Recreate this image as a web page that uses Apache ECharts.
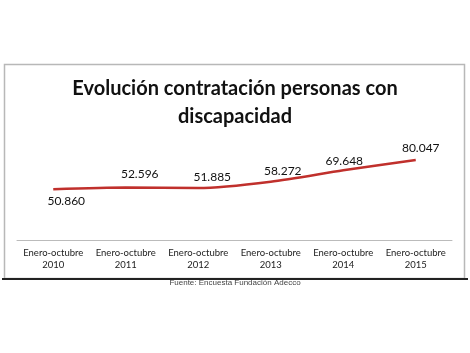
<!DOCTYPE html>
<html>
<head>
<meta charset="utf-8">
<script src="https://cdn.jsdelivr.net/npm/echarts@6/dist/echarts.min.js"></script>
<style>
html,body{margin:0;padding:0;background:#fff;}
#c{width:470px;height:353px;}
</style>
</head>
<body>
<div id="c"></div>
<script>
var categories = ['Enero-octubre\n2010','Enero-octubre\n2011','Enero-octubre\n2012','Enero-octubre\n2013','Enero-octubre\n2014','Enero-octubre\n2015'];
var values = [50860, 52596, 51885, 58272, 69648, 80047];
var valueLabels = ['50.860','52.596','51.885','58.272','69.648','80.047'];
var titleText = 'Evolución contratación personas con\ndiscapacidad';
var sourceText = 'Fuente: Encuesta Fundación Adecco';

// label placement (styling)
var labelPos = ['bottom','top','top','top','top','top'];
var labelOff = [[13,-1],[14,-1],[14,2],[12,2],[1,3],[5,1]];

var chart = echarts.init(document.getElementById('c'), null, {renderer:'canvas'});
var seriesData = values.map(function(v,i){
  return {value:v, label:{position:labelPos[i], offset:labelOff[i], formatter:valueLabels[i]}};
});
chart.setOption({
  animation:false,
  title:{
    text:titleText,
    left:'center', top:70,
    textStyle:{fontFamily:'Lato', fontWeight:'bold', fontSize:20, lineHeight:28, color:'#111'}
  },
  grid:{left:17, right:18, top:140, bottom:113},
  xAxis:{
    type:'category', data:categories, boundaryGap:true,
    axisLine:{lineStyle:{color:'#bbb', width:1}},
    axisTick:{show:false},
    axisLabel:{fontFamily:'Lato', fontSize:9.5, lineHeight:12, color:'#222', margin:7, interval:0}
  },
  yAxis:{type:'value', min:0, max:100000, show:false, splitLine:{show:false}},
  series:[{
    type:'line', data:seriesData, smooth:0.25, symbol:'circle', symbolSize:1, showSymbol:true,
    itemStyle:{color:'rgba(0,0,0,0)'},
    lineStyle:{color:'#c0302c', width:2.5},
    label:{show:true, fontFamily:'Lato', fontSize:12, color:'#111', distance:6}
  }],
  graphic:[
    {type:'rect', shape:{x:4.5, y:64.5, width:460, height:214}, style:{fill:'none', stroke:'#b8b8b8', lineWidth:1.5}, z:-1},
    {type:'line', shape:{x1:2, y1:279, x2:468, y2:279}, style:{stroke:'#222', lineWidth:2}},
    {type:'text', left:'center', top:279, style:{text:sourceText, font:'8px "Liberation Sans"', fill:'#444'}}
  ]
});
</script>
</body>
</html>
